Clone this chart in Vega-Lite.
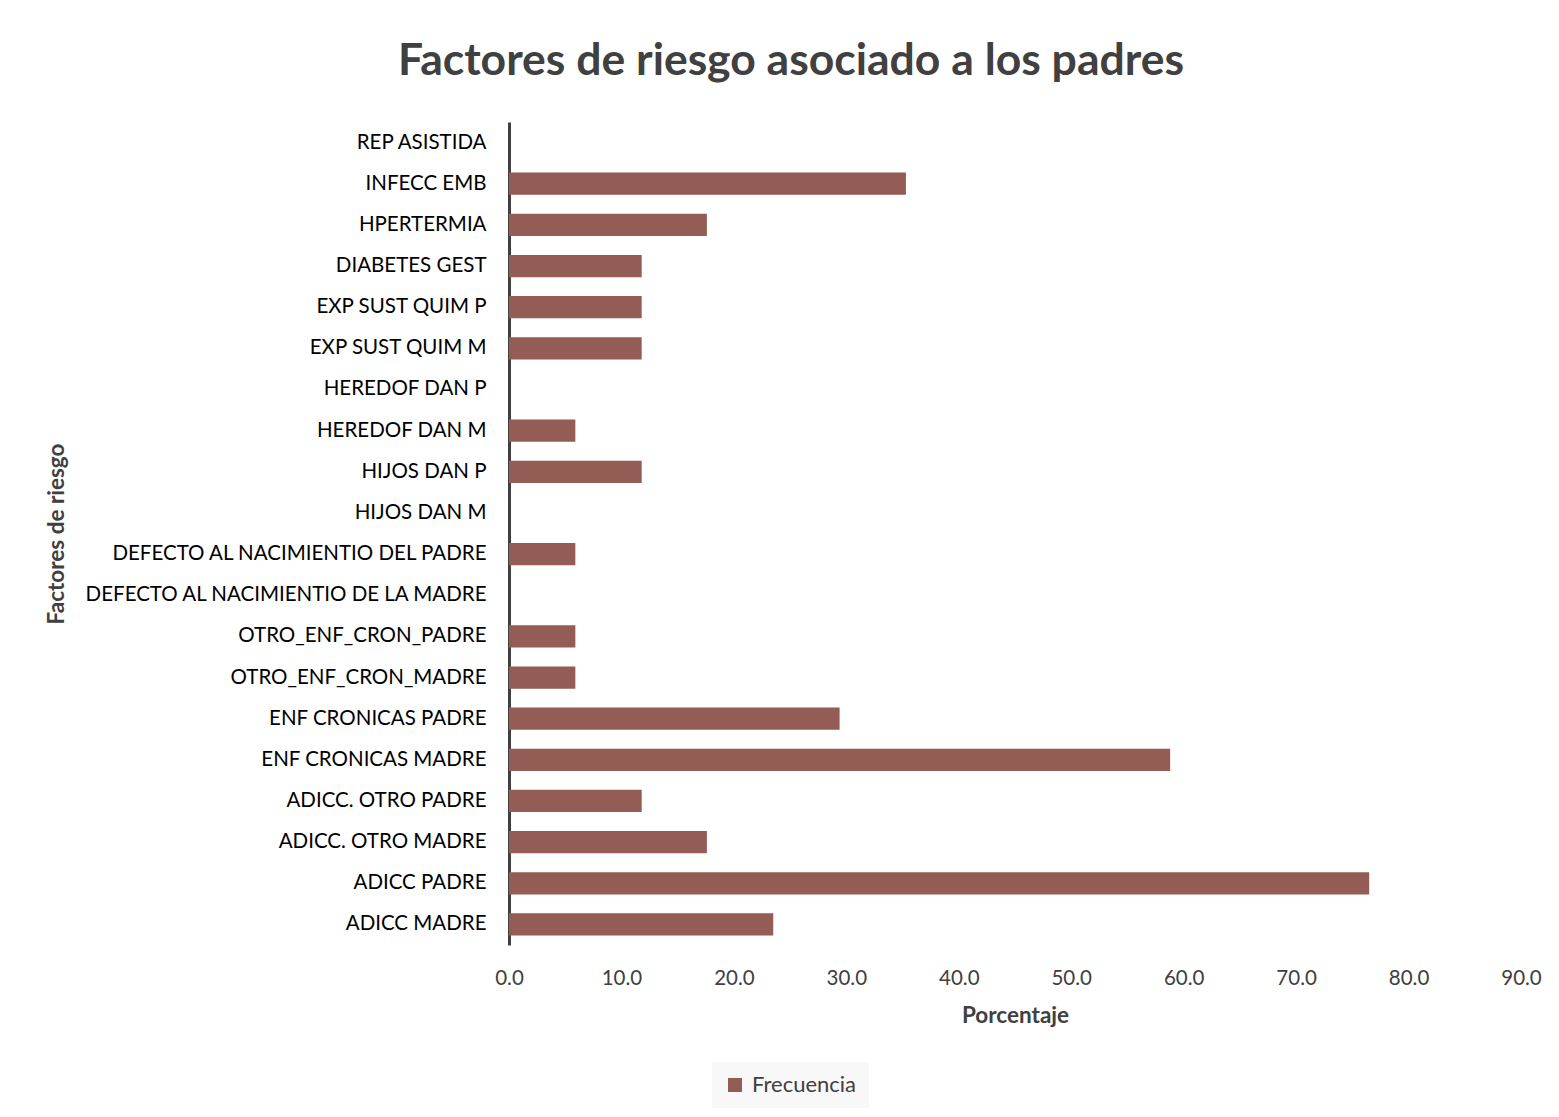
{
  "$schema": "https://vega.github.io/schema/vega-lite/v6.json",
  "width": 1012,
  "height": 823,
  "autosize": {"type": "none"},
  "padding": {"left": 509, "top": 122, "right": 38, "bottom": 172},
  "background": "white",
  "title": {
    "text": "Factores de riesgo asociado a los padres",
    "font": "Lato",
    "fontSize": 44.5,
    "fontWeight": "bold",
    "color": "#404040",
    "anchor": "middle",
    "dx": -224,
    "offset": 38
  },
  "data": {
    "values": [
      {"factor": "REP ASISTIDA", "porcentaje": 0, "serie": "Frecuencia"},
      {"factor": "INFECC EMB", "porcentaje": 35.3, "serie": "Frecuencia"},
      {"factor": "HPERTERMIA", "porcentaje": 17.6, "serie": "Frecuencia"},
      {"factor": "DIABETES GEST", "porcentaje": 11.8, "serie": "Frecuencia"},
      {"factor": "EXP SUST QUIM P", "porcentaje": 11.8, "serie": "Frecuencia"},
      {"factor": "EXP SUST QUIM M", "porcentaje": 11.8, "serie": "Frecuencia"},
      {"factor": "HEREDOF DAN P", "porcentaje": 0, "serie": "Frecuencia"},
      {"factor": "HEREDOF DAN M", "porcentaje": 5.9, "serie": "Frecuencia"},
      {"factor": "HIJOS DAN P", "porcentaje": 11.8, "serie": "Frecuencia"},
      {"factor": "HIJOS DAN M", "porcentaje": 0, "serie": "Frecuencia"},
      {"factor": "DEFECTO AL NACIMIENTIO DEL PADRE", "porcentaje": 5.9, "serie": "Frecuencia"},
      {"factor": "DEFECTO AL NACIMIENTIO DE LA  MADRE", "porcentaje": 0, "serie": "Frecuencia"},
      {"factor": "OTRO_ENF_CRON_PADRE", "porcentaje": 5.9, "serie": "Frecuencia"},
      {"factor": "OTRO_ENF_CRON_MADRE", "porcentaje": 5.9, "serie": "Frecuencia"},
      {"factor": "ENF CRONICAS PADRE", "porcentaje": 29.4, "serie": "Frecuencia"},
      {"factor": "ENF CRONICAS MADRE", "porcentaje": 58.8, "serie": "Frecuencia"},
      {"factor": "ADICC. OTRO PADRE", "porcentaje": 11.8, "serie": "Frecuencia"},
      {"factor": "ADICC. OTRO MADRE", "porcentaje": 17.6, "serie": "Frecuencia"},
      {"factor": "ADICC PADRE", "porcentaje": 76.5, "serie": "Frecuencia"},
      {"factor": "ADICC MADRE", "porcentaje": 23.5, "serie": "Frecuencia"}
    ]
  },
  "mark": {"type": "bar"},
  "encoding": {
    "y": {
      "field": "factor",
      "type": "nominal",
      "sort": null,
      "scale": {"paddingInner": 0.46, "paddingOuter": 0.23},
      "axis": {
        "title": "Factores de riesgo",
        "titleFont": "Lato",
        "titleFontSize": 22.5,
        "titleFontWeight": "bold",
        "titleColor": "#404040",
        "titleX": -441,
        "labelFont": "Lato",
        "labelFontSize": 20.5,
        "labelColor": "#000000",
        "labelPadding": 23,
        "labelLimit": 500,
        "ticks": false,
        "domainColor": "#404040",
        "domainWidth": 3,
        "grid": false
      }
    },
    "x": {
      "field": "porcentaje",
      "type": "quantitative",
      "scale": {"domain": [0, 90], "nice": false},
      "axis": {
        "title": "Porcentaje",
        "titleFont": "Lato",
        "titleFontSize": 22.5,
        "titleFontWeight": "bold",
        "titleColor": "#404040",
        "titlePadding": 16,
        "values": [0, 10, 20, 30, 40, 50, 60, 70, 80, 90],
        "format": ".1f",
        "labelFont": "Lato",
        "labelFontSize": 20.5,
        "labelColor": "#404040",
        "labelPadding": 23,
        "labelFlush": false,
        "labelOverlap": false,
        "ticks": false,
        "domain": false,
        "grid": false
      }
    },
    "color": {
      "field": "serie",
      "type": "nominal",
      "scale": {"range": ["#935C55"]},
      "legend": {
        "title": null,
        "orient": "none",
        "legendX": 203,
        "legendY": 940,
        "fillColor": "#f8f8f8",
        "padding": 12,
        "symbolType": "square",
        "symbolSize": 196,
        "labelFont": "Lato",
        "labelFontSize": 22,
        "labelColor": "#404040",
        "labelOffset": 6
      }
    }
  },
  "config": {
    "view": {"stroke": null}
  }
}
